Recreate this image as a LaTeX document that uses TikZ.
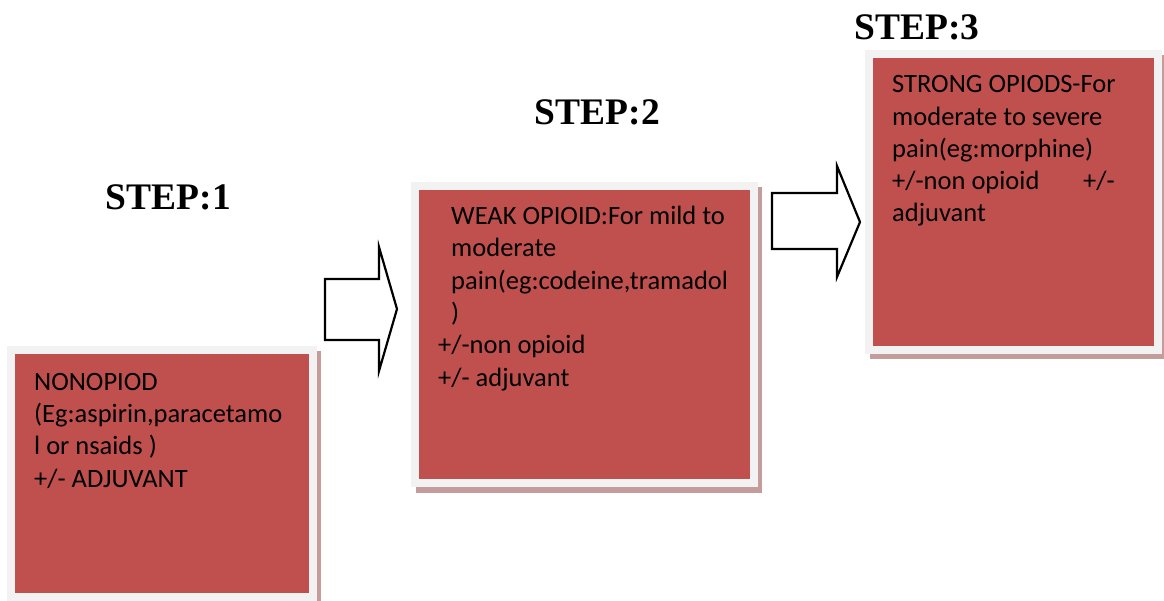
\documentclass[tikz,border=0pt]{standalone}
\usepackage{fontspec}
\setmainfont{Liberation Serif}
\newfontfamily\boxfont{Carlito}
\definecolor{boxred}{HTML}{C0504D}
\definecolor{framegray}{HTML}{F2F2F2}
\definecolor{shadowpink}{RGB}{196,156,156}
\tikzset{
  redbox/.style={rectangle, fill=boxred, draw=framegray, line width=8pt, inner sep=0pt, anchor=north west},
  shadowbox/.style={fill=shadowpink},
  steptitle/.style={font=\fontsize{37.5}{40}\selectfont\bfseries, anchor=base, inner sep=0pt},
  boxtext/.style={font=\boxfont\fontsize{26.5}{32.3}\selectfont, align=left, anchor=base west, inner sep=0pt},
  blockarrow/.style={draw=black, fill=white, line width=2.2pt, line join=miter}
}
\begin{document}
\begin{tikzpicture}[x=1pt,y=-1pt]
\useasboundingbox (0,0) rectangle (1164,601);
% shadows
\fill[shadowbox] (12,351) rectangle (321,606);
\fill[shadowbox] (416,187) rectangle (762,493);
\fill[shadowbox] (870,55) rectangle (1166,359);
% boxes
\node[redbox, minimum width=302pt, minimum height=247pt] (box1) at (7,346) {};
\node[redbox, minimum width=339pt, minimum height=297pt] (box2) at (411,182) {};
\node[redbox, minimum width=288.5pt, minimum height=296pt] (box3) at (865,50) {};
% titles
\node[steptitle] (t1) at (168.5,210) {STEP:1};
\node[steptitle] (t2) at (597.5,125) {STEP:2};
\node[steptitle] (t3) at (917,40) {STEP:3};
% texts (anchor = baseline of last line)
\node[boxtext] (txt1) at (34,487) {NONOPIOD\\(Eg:aspirin,paracetamo\\l or nsaids )\\+/- ADJUVANT};
\node[boxtext] (txt2) at (438,386) {\hspace*{13pt}WEAK OPIOID:For mild to\\\hspace*{13pt}moderate\\\hspace*{13pt}pain(eg:codeine,tramadol\\\hspace*{13pt})\\+/-non opioid\\+/- adjuvant};
\node[boxtext] (txt3) at (892,222) {STRONG OPIODS-For\\moderate to severe\\pain(eg:morphine)\\\makebox[191pt][l]{+/-non opioid}+/-\\adjuvant};
% block arrows
\draw[blockarrow] (325,279) -- (379,279) -- (379,247) -- (397,309) -- (379,371) -- (379,340) -- (325,340) -- cycle;
\draw[blockarrow] (772,193) -- (837,193) -- (837,166) -- (860,222) -- (837,277) -- (837,249) -- (772,249) -- cycle;
\end{tikzpicture}
\end{document}
